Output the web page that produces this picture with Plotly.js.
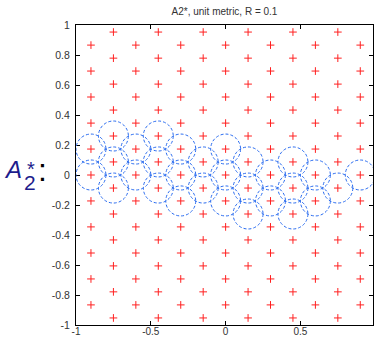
<!DOCTYPE html>
<html>
<head>
<meta charset="utf-8">
<script src="https://cdn.plot.ly/plotly-3.0.1.min.js"></script>
<style>
  html, body { margin: 0; padding: 0; background: #ffffff; }
  #chart { width: 376px; height: 339px; }
</style>
</head>
<body>
<div id="chart"></div>
<script>
// ---- Data ----
// Lattice rows (y values) whose points sit at the "even" x positions
const evenRowY = [0.866, 0.693, 0.520, 0.346, 0.173, 0.0, -0.173, -0.346, -0.520, -0.693, -0.866];
// Lattice rows (y values) whose points sit at the "odd" x positions
const oddRowY = [0.953, 0.779, 0.606, 0.433, 0.260, 0.087, -0.087, -0.260, -0.433, -0.606, -0.779, -0.953];
const evenRowX = [-0.9, -0.6, -0.3, 0.0, 0.3, 0.6, 0.9];
const oddRowX = [-0.75, -0.45, -0.15, 0.15, 0.45, 0.75];

// Centres of the dashed circles (radius R)
const circleX = [-0.9, -0.9,
                 -0.75, -0.75, -0.75,
                 -0.6, -0.6,
                 -0.45, -0.45, -0.45,
                 -0.3, -0.3, -0.3,
                 -0.15, -0.15,
                 0.0, 0.0, 0.0,
                 0.15, 0.15, 0.15,
                 0.3, 0.3,
                 0.45, 0.45, 0.45,
                 0.6, 0.6,
                 0.75,
                 0.9];
const circleY = [0.173, 0.0,
                 0.260, 0.087, -0.087,
                 0.173, 0.0,
                 0.260, 0.087, -0.087,
                 0.173, 0.0, -0.173,
                 0.087, -0.087,
                 0.173, 0.0, -0.173,
                 0.087, -0.087, -0.260,
                 0.0, -0.173,
                 0.087, -0.087, -0.260,
                 0.0, -0.173,
                 -0.087,
                 0.0];
const R = 0.1;

const xTickVals = [-1, -0.5, 0, 0.5];
const xTickText = ['-1', '-0.5', '0', '0.5'];
const yTickVals = [-1, -0.8, -0.6, -0.4, -0.2, 0, 0.2, 0.4, 0.6, 0.8, 1];
const yTickText = ['-1', '-0.8', '-0.6', '-0.4', '-0.2', '0', '0.2', '0.4', '0.6', '0.8', '1'];

const titleText = 'A2*, unit metric, R = 0.1';

// ---- Build lattice point lists ----
const px = [], py = [];
evenRowY.forEach(y => evenRowX.forEach(x => { px.push(x); py.push(y); }));
oddRowY.forEach(y => oddRowX.forEach(x => { px.push(x); py.push(y); }));

const FONT = 'Liberation Sans, Arial, Helvetica, sans-serif';

const traces = [{
  type: 'scatter',
  mode: 'markers',
  x: px, y: py,
  marker: { symbol: 'cross-thin', size: 5.5, color: '#ff0000', line: { color: '#ff2020', width: 1 } },
  hoverinfo: 'skip',
  showlegend: false,
  cliponaxis: false
}];

const shapes = circleX.map((cx, i) => ({
  type: 'circle',
  xref: 'x', yref: 'y',
  x0: cx - R, x1: cx + R,
  y0: circleY[i] - R, y1: circleY[i] + R,
  line: { color: '#2a6cf0', width: 1, dash: '3px,2px' },
  fillcolor: 'rgba(0,0,0,0)',
  layer: 'above'
}));

// plot-area geometry helpers for the side label (paper coords)
const L = 76, Rm = 3, T = 25, B = 14, W = 376, H = 339;
const pw = W - L - Rm, ph = H - T - B;
const fx = p => (p - L) / pw;
const fy = p => (H - B - p) / ph;

const navy = '#1c1c8c';
const annotations = [
  { xref: 'paper', yref: 'paper', x: fx(2), y: fy(169), xanchor: 'left', yanchor: 'middle',
    text: '<i>A</i>', showarrow: false, font: { family: FONT, size: 24, color: navy } },
  { xref: 'paper', yref: 'paper', x: fx(22.5), y: fy(182.5), xanchor: 'left', yanchor: 'middle',
    text: '2', showarrow: false, font: { family: FONT, size: 21, color: navy } },
  { xref: 'paper', yref: 'paper', x: fx(24.5), y: fy(169), xanchor: 'left', yanchor: 'middle',
    text: '*', showarrow: false, font: { family: FONT, size: 20, color: navy } },
  { xref: 'paper', yref: 'paper', x: fx(36), y: fy(170), xanchor: 'left', yanchor: 'middle',
    text: ':', showarrow: false, font: { family: FONT, size: 32, color: '#000000' } }
];

const axisCommon = {
  showgrid: false,
  zeroline: false,
  showline: true,
  linecolor: '#000000',
  linewidth: 1,
  mirror: 'allticks',
  ticks: 'inside',
  ticklen: 4,
  tickwidth: 1,
  tickcolor: '#000000',
  tickfont: { family: FONT, size: 10.5, color: '#333333' },
  fixedrange: true
};

const layout = {
  width: W, height: H,
  margin: { l: L, r: Rm, t: T, b: B, pad: 0 },
  paper_bgcolor: '#ffffff',
  plot_bgcolor: '#ffffff',
  showlegend: false,
  title: {
    text: titleText,
    font: { family: FONT, size: 10, color: '#333333' },
    x: 0.5, xref: 'paper', xanchor: 'center',
    y: 1 - 11 / H, yref: 'container', yanchor: 'middle'
  },
  xaxis: Object.assign({}, axisCommon, {
    range: [-1, 0.985],
    tickmode: 'array', tickvals: xTickVals, ticktext: xTickText,
    tickfont: { family: FONT, size: 10, color: '#333333' },
    ticklabelstandoff: -3
  }),
  yaxis: Object.assign({}, axisCommon, {
    range: [-1, 1],
    tickmode: 'array', tickvals: yTickVals, ticktext: yTickText,
    ticklabelstandoff: 3
  }),
  shapes: shapes,
  annotations: annotations
};

Plotly.newPlot('chart', traces, layout, { displayModeBar: false, staticPlot: true });
</script>
</body>
</html>
